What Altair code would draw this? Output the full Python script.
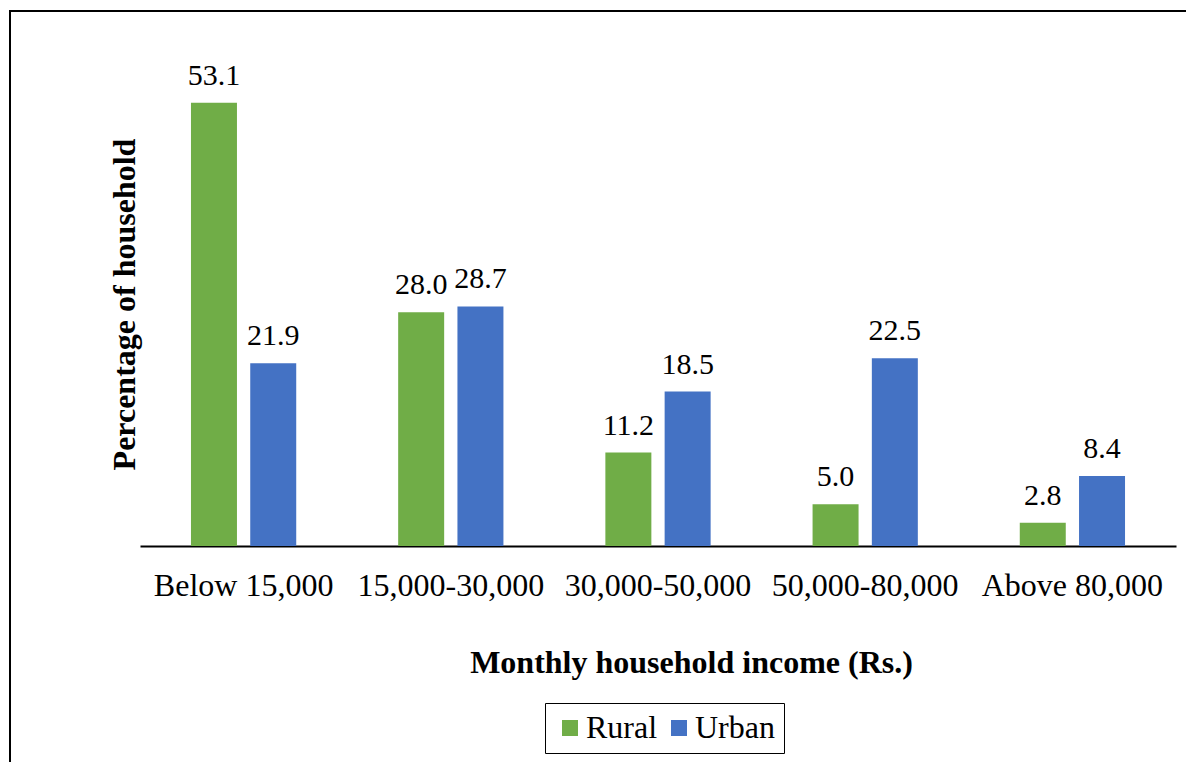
import altair as alt
import pandas as pd

categories = ["Below 15,000", "15,000-30,000", "30,000-50,000", "50,000-80,000", "Above 80,000"]
rural = [53.1, 28.0, 11.2, 5.0, 2.8]
urban = [21.9, 28.7, 18.5, 22.5, 8.4]
series = ["Rural", "Urban"]
colors = ["#70AD47", "#4472C4"]

rows = []
for c, r, u in zip(categories, rural, urban):
    rows.append({"cat": c, "series": "Rural", "value": r})
    rows.append({"cat": c, "series": "Urban", "value": u})
df = pd.DataFrame(rows)

FONT = "Liberation Serif"

x = alt.X("cat:N", sort=categories,
          scale=alt.Scale(paddingInner=0, paddingOuter=0),
          axis=alt.Axis(title="Monthly household income (Rs.)", labelAngle=0,
                        ticks=False, labelPadding=24, labelFontSize=32,
                        labelFont=FONT, labelColor="black", labelLimit=0,
                        titleFont=FONT, titleFontSize=32, titleFontWeight="bold",
                        titleColor="black", titlePadding=46, titleX=551,
                        titleAlign="center",
                        domainColor="black", domainWidth=2))
xo = alt.XOffset("series:N", sort=series,
                 scale=alt.Scale(paddingInner=0.224, paddingOuter=0.86))
y = alt.Y("value:Q", scale=alt.Scale(domain=[0, 55], nice=False),
          axis=alt.Axis(title="Percentage of household", labels=False, ticks=False,
                        domain=False, grid=False, titleFont=FONT, titleFontSize=32,
                        titleFontWeight="bold", titleColor="black",
                        titleX=-6, titleY=217, titleBaseline="alphabetic",
                        titleAngle=-90, titleAlign="center"))

base = alt.Chart(df)

bars = base.mark_bar().encode(
    x=x, xOffset=xo, y=y,
    color=alt.Color("series:N", sort=series,
                    scale=alt.Scale(domain=series, range=colors),
                    legend=alt.Legend(title=None, orient="none", direction="horizontal",
                                      legendX=405, legendY=616,
                                      symbolType="square", symbolSize=256,
                                      symbolStrokeWidth=0, symbolOffset=0,
                                      labelFont=FONT, labelFontSize=32,
                                      labelColor="black", labelOffset=0,
                                      columnPadding=5, gridAlign="none",
                                      padding=9,
                                      strokeColor="black", fillColor="white"))
)

labels = base.mark_text(font=FONT, fontSize=30, baseline="alphabetic", dy=-18,
                        color="black").encode(
    x=x, xOffset=xo, y=y, text=alt.Text("value:Q", format=".1f")
)

frame = alt.Chart(pd.DataFrame({"a": [0]})).mark_rect(
    fill=None, stroke="black", strokeWidth=2
).encode(x=alt.value(-130), x2=alt.value(1100), y=alt.value(-76), y2=alt.value(720))

chart = alt.layer(frame, bars, labels).properties(
    width=1036, height=459,
    autosize=alt.AutoSizeParams(type="none"),
    padding={"left": 132, "top": 79, "right": 10, "bottom": 216}
).configure_view(stroke=None)

chart.save("out.html", embed_options={"renderer": "svg", "actions": False})
